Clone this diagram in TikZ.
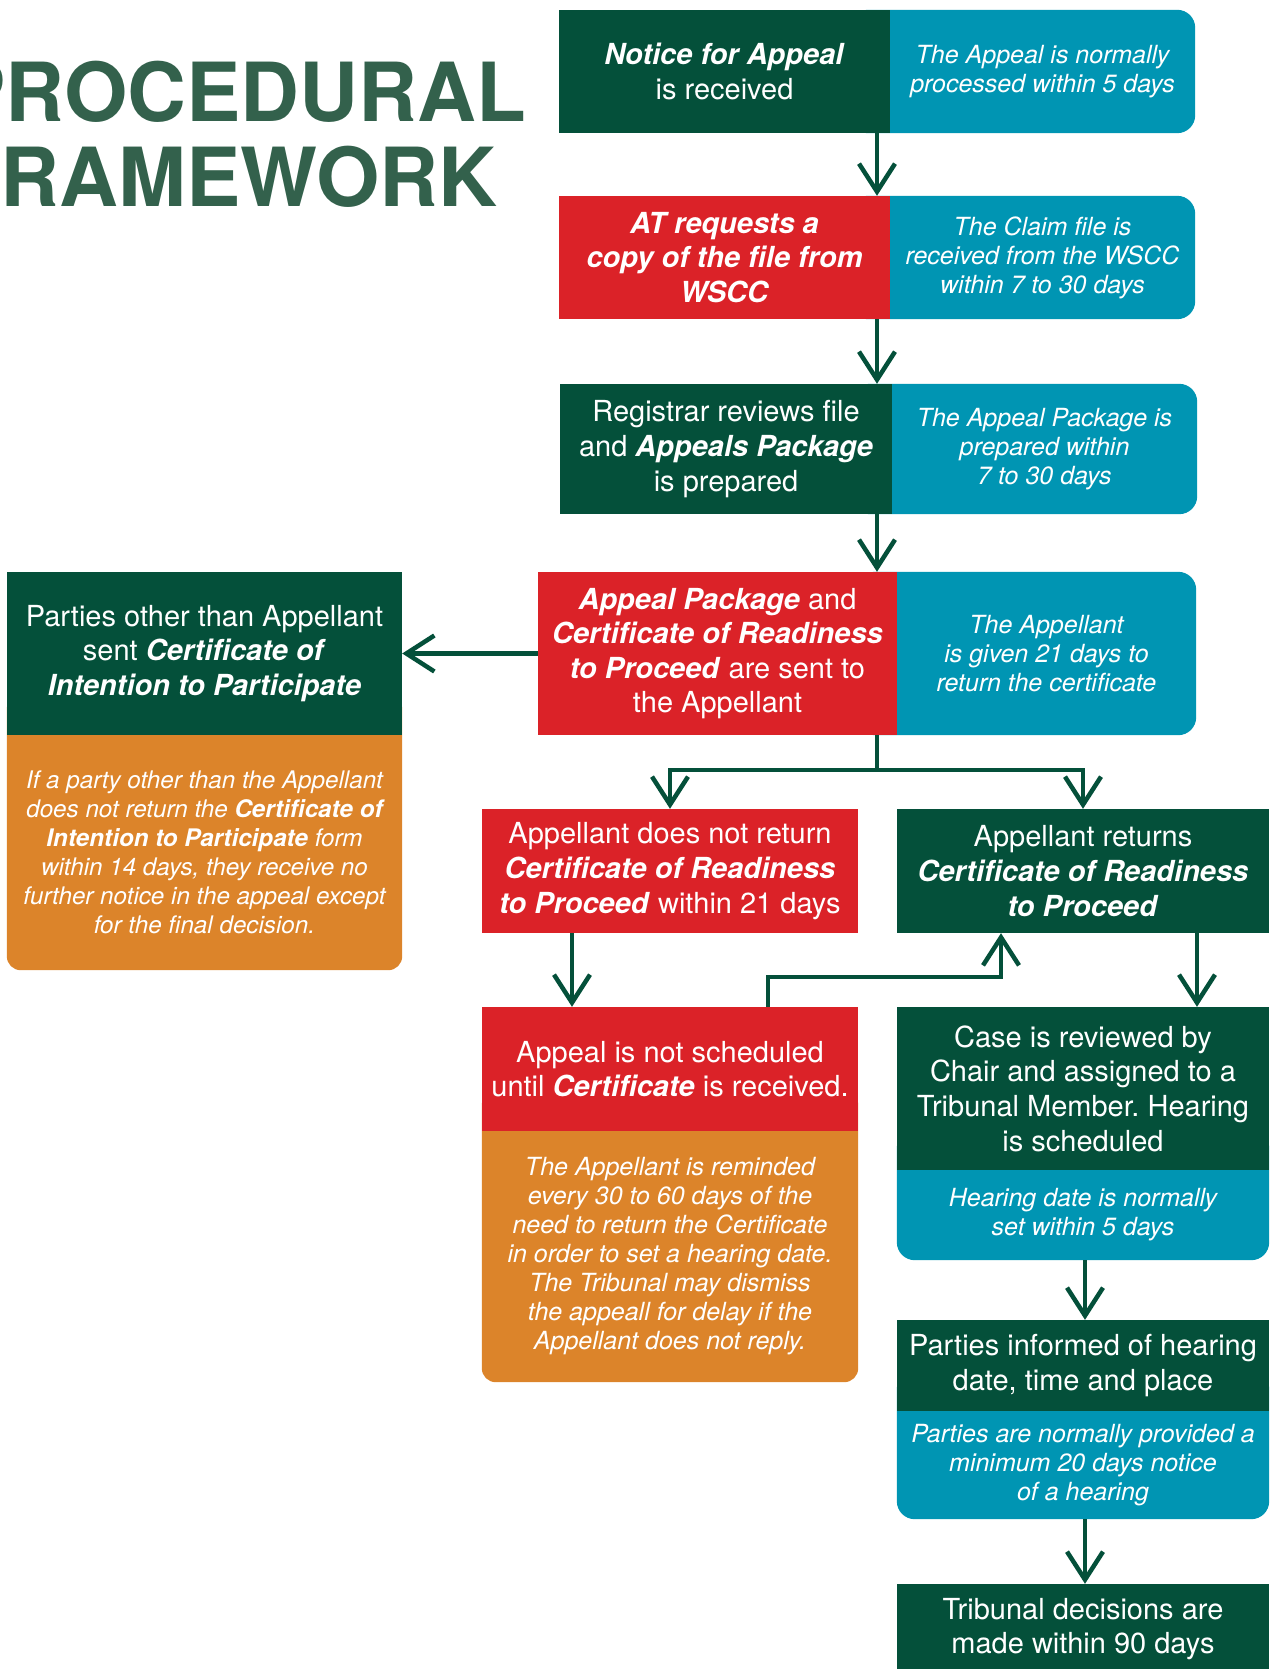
\documentclass[tikz,border=0pt]{standalone}
\usepackage{fontspec}
\setmainfont{TeX Gyre Heros}
\usetikzlibrary{arrows.meta}
\pgfdeclarelayer{bg}
\pgfsetlayers{bg,main}
\definecolor{dgreen}{RGB}{4,80,58}
\definecolor{tgreen}{RGB}{51,97,76}
\definecolor{ared}{RGB}{219,34,40}
\definecolor{ateal}{RGB}{0,149,179}
\definecolor{aorange}{RGB}{220,132,42}
\newcommand\bi[1]{\textbf{\textit{#1}}}
\frenchspacing
\begin{document}
\begin{tikzpicture}[x=1pt,y=-1pt,
  box/.style={inner sep=0pt, align=center, text=white, font=\fontsize{29}{34.6}\selectfont},
  gbox/.style={box, fill=dgreen},
  rbox/.style={box, fill=ared},
  note/.style={inner sep=0pt, align=center, text=white, font=\fontsize{25}{29}\selectfont\itshape},
  onote/.style={inner sep=0pt, align=center, text=white, font=\fontsize{24.2}{29}\selectfont\itshape},
  titletext/.style={anchor=base west, inner sep=0pt, text=tgreen, font=\fontsize{81.5}{86}\selectfont\bfseries},
  arr/.style={draw=dgreen, line width=4.5pt, -{Straight Barb[length=28pt,width=36pt]}},
  tealfill/.style={fill=ateal, rounded corners=18pt},
  orangefill/.style={fill=aorange, rounded corners=14pt},
]
\useasboundingbox (0,0) rectangle (1269,1669);

% title
\node[titletext] (title1) at (-49,122) {PROCEDURAL};
\node[titletext] (title2) at (-49,207) {FRAMEWORK};

% row 1
\node[gbox, minimum width=331pt, minimum height=123pt] (n1) at (724.5,71.5)
  {\bi{Notice for Appeal}\\is received};
\node[note, minimum width=305pt, minimum height=123pt] (t1) at (1042.5,71.5)
  {The Appeal is normally\\processed within 5 days};

% row 2
\node[rbox, minimum width=331pt, minimum height=123pt] (n2) at (724.5,257.5)
  {\bi{AT requests a}\\\bi{copy of the file from}\\\bi{WSCC}};
\node[note, minimum width=305pt, minimum height=123pt] (t2) at (1042.5,257.5)
  {The Claim file is\\received from the WSCC\\within 7 to 30 days};

% row 3
\node[gbox, minimum width=332pt, minimum height=130pt] (n3) at (726,449)
  {Registrar reviews file\\and \bi{Appeals Package}\\is prepared};
\node[note, minimum width=305pt, minimum height=130pt] (t3) at (1044.5,449)
  {The Appeal Package is\\prepared within\\7 to 30 days};

% row 4
\node[rbox, minimum width=359pt, minimum height=163pt] (n4) at (717.5,653.5)
  {\bi{Appeal Package} and\\\bi{Certificate of Readiness}\\\bi{to Proceed} are sent to\\the Appellant};
\node[note, minimum width=299pt, minimum height=163pt] (t4) at (1046.5,653.5)
  {The Appellant\\is given 21 days to\\return the certificate};

% left column
\node[gbox, minimum width=395pt, minimum height=163pt] (p1) at (204.5,653.5)
  {Parties other than Appellant\\sent \bi{Certificate of}\\\bi{Intention to Participate}};
\node[onote, minimum width=395pt, minimum height=235pt] (o1) at (204.5,852.5)
  {If a party other than the Appellant\\does not return the \textbf{Certificate of}\\\textbf{Intention to Participate} form\\within 14 days, they receive no\\further notice in the appeal except\\for the final decision.};

% row 5
\node[rbox, minimum width=376pt, minimum height=124pt] (noret) at (670,871)
  {Appellant does not return\\\bi{Certificate of Readiness}\\\bi{to Proceed} within 21 days};
\node[gbox, minimum width=372pt, minimum height=124pt] (ret) at (1083,871)
  {Appellant returns\\\bi{Certificate of Readiness}\\\bi{to Proceed}};

% row 6 left
\node[rbox, minimum width=376pt, minimum height=124pt] (notsched) at (670,1069)
  {Appeal is not scheduled\\until \bi{Certificate} is received.};
\node[note, minimum width=376pt, minimum height=251pt] (o2) at (670,1256.5)
  {The Appellant is reminded\\every 30 to 60 days of the\\need to return the Certificate\\in order to set a hearing date.\\The Tribunal may dismiss\\the appeall for delay if the\\Appellant does not reply.};

% right column
\node[gbox, minimum width=372pt, minimum height=163pt] (case) at (1083,1088.5)
  {Case is reviewed by\\Chair and assigned to a\\Tribunal Member. Hearing\\is scheduled};
\node[note, minimum width=372pt, minimum height=90pt] (caset) at (1083,1215)
  {Hearing date is normally\\set within 5 days};
\node[gbox, minimum width=372pt, minimum height=91pt] (inform) at (1083,1365.5)
  {Parties informed of hearing\\date, time and place};
\node[note, minimum width=372pt, minimum height=108pt] (informt) at (1083,1465)
  {Parties are normally provided a\\minimum 20 days notice\\of a hearing};
\node[gbox, minimum width=372pt, minimum height=90pt] (dec) at (1083,1629)
  {Tribunal decisions are\\made within 90 days};

% background fills
\begin{pgfonlayer}{bg}
  \fill[tealfill] ([xshift=-40pt]t1.north west) rectangle (t1.south east);
  \fill[tealfill] ([xshift=-40pt]t2.north west) rectangle (t2.south east);
  \fill[tealfill] ([xshift=-40pt]t3.north west) rectangle (t3.south east);
  \fill[tealfill] ([xshift=-40pt]t4.north west) rectangle (t4.south east);
  \fill[orangefill] ([yshift=40pt]o1.north west) rectangle (o1.south east);
  \fill[orangefill] ([yshift=40pt]o2.north west) rectangle (o2.south east);
  \fill[tealfill] ([yshift=40pt]caset.north west) rectangle (caset.south east);
  \fill[tealfill] ([yshift=40pt]informt.north west) rectangle (informt.south east);
\end{pgfonlayer}

% connectors
\coordinate (ax) at (877,0);
\draw[arr] (n1.south -| ax) -- (n2.north -| ax);
\draw[arr] (n2.south -| ax) -- (n3.north -| ax);
\draw[arr] (n3.south -| ax) -- (n4.north -| ax);
\draw[arr] (n4.west) -- (p1.east);
\coordinate (split) at (877,770);
\draw[arr] (n4.south -| ax) -- (split) -| (noret.north);
\draw[arr] (split) -| (ret.north);
\coordinate (bx) at (572,0);
\draw[arr] (noret.south -| bx) -- (notsched.north -| bx);
\coordinate (fb) at (768,977);
\coordinate (fx) at (1001,0);
\draw[arr] (notsched.north -| fb) -- (fb) -| (ret.south -| fx);
\coordinate (cx) at (1197,0);
\draw[arr] (ret.south -| cx) -- (case.north -| cx);
\coordinate (dx) at (1085,0);
\draw[arr] (caset.south -| dx) -- (inform.north -| dx);
\draw[arr] (informt.south -| dx) -- (dec.north -| dx);
\end{tikzpicture}
\end{document}
